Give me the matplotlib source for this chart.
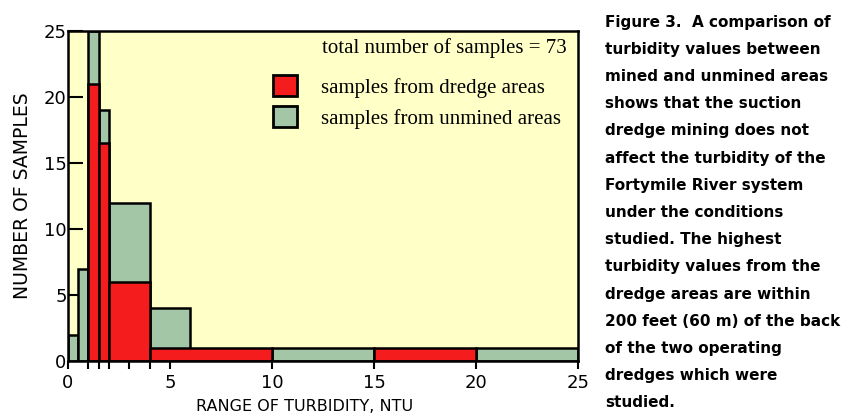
import matplotlib
matplotlib.use("Agg")
import matplotlib.pyplot as plt
from matplotlib.patches import Patch
import numpy as np

# ---- data ----
unmined_left = [0.0, 0.5, 1.0, 1.5, 2.0, 4.0, 10.0, 20.0]
unmined_right = [0.5, 1.0, 1.5, 2.0, 4.0, 6.0, 15.0, 25.0]
unmined_height = [2, 7, 25, 19, 12, 4, 1, 1]

dredge_left = [1.0, 1.5, 2.0, 4.0, 15.0]
dredge_right = [1.5, 2.0, 4.0, 10.0, 20.0]
dredge_height = [21, 16.5, 6, 1, 1]

x_major_ticks = [0, 5, 10, 15, 20, 25]
x_minor_ticks = [1, 1.5, 2, 3, 4]
y_ticks = [0, 5, 10, 15, 20, 25]

legend_total = "total number of samples = 73"
legend_labels = ["samples from dredge areas", "samples from unmined areas"]

caption_lines = [
    "Figure 3.  A comparison of",
    "turbidity values between",
    "mined and unmined areas",
    "shows that the suction",
    "dredge mining does not",
    "affect the turbidity of the",
    "Fortymile River system",
    "under the conditions",
    "studied. The highest",
    "turbidity values from the",
    "dredge areas are within",
    "200 feet (60 m) of the back",
    "of the two operating",
    "dredges which were",
    "studied.",
]

RED = "#f41c1c"
GREEN = "#a2c6a6"
BG = "#ffffc8"

W, H = 845, 413
fig = plt.figure(figsize=(W / 100, H / 100), dpi=100)
fig.patch.set_facecolor("white")
ax = fig.add_axes([68 / W, 1 - 361 / H, 510 / W, 330 / H])
ax.set_facecolor(BG)

uw = np.array(unmined_right) - np.array(unmined_left)
dw = np.array(dredge_right) - np.array(dredge_left)
ax.bar(unmined_left, unmined_height, width=uw, align="edge", color=GREEN,
       edgecolor="black", linewidth=1.8, zorder=2)
ax.bar(dredge_left, dredge_height, width=dw, align="edge", color=RED,
       edgecolor="black", linewidth=1.8, zorder=3)

ax.set_xlim(0, 25)
ax.set_ylim(0, 25)
for s in ax.spines.values():
    s.set_linewidth(1.8)
    s.set_zorder(5)

tickfont = dict(family="DejaVu Sans", size=13)
ax.set_xticks(x_major_ticks)
ax.set_xticks(x_minor_ticks, minor=True)
ax.set_yticks(y_ticks)
ax.set_xticklabels([str(t) for t in x_major_ticks], **tickfont)
ax.set_yticklabels([str(t) for t in y_ticks], **tickfont)
ax.tick_params(axis="x", which="both", direction="out", length=6, width=1.5, pad=3)
ax.tick_params(axis="y", direction="in", length=11, width=1.5, pad=1)

ax.set_xlabel("RANGE OF TURBIDITY, NTU", family="DejaVu Sans", size=11.5)
ax.xaxis.set_label_coords((305 - 68) / 510, -0.115)
ax.set_ylabel("NUMBER OF SAMPLES", family="DejaVu Sans", size=13.5)
ax.yaxis.set_label_coords(-0.07, 0.5)

# legend
fig.text(322 / W, 1 - 48 / H, legend_total, family="Liberation Serif",
         size=15, va="center", ha="left")
handles = [Patch(facecolor=RED, edgecolor="black", linewidth=2),
           Patch(facecolor=GREEN, edgecolor="black", linewidth=2)]
leg = ax.legend(handles, legend_labels, loc="upper left",
                bbox_to_anchor=(273 / W, 1 - 75 / H), bbox_transform=fig.transFigure,
                frameon=False, borderpad=0, borderaxespad=0,
                handlelength=1.15, handleheight=1.2, handletextpad=1.15,
                labelspacing=0.4, prop=dict(family="Liberation Serif", size=15))

# caption
y0, step = 22, 27.2
for i, line in enumerate(caption_lines):
    fig.text(605 / W, 1 - (y0 + i * step) / H, line, family="DejaVu Sans",
             weight="bold", size=11.0, va="center", ha="left")

fig.savefig("out.png", dpi=100)
